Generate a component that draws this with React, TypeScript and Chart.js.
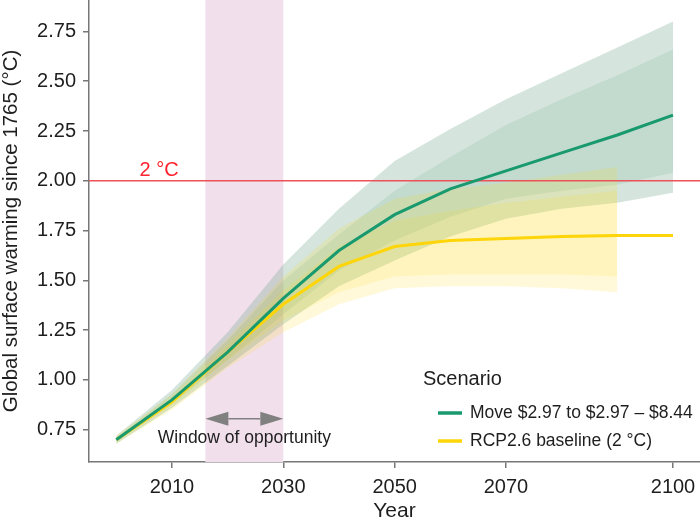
import { useEffect, useRef } from 'react';
import { Chart, registerables } from 'chart.js';

Chart.register(...registerables);

const FONT = "'Liberation Sans', Arial, Helvetica, sans-serif";

const YEARS = [2000, 2010, 2020, 2030, 2040, 2050, 2060, 2070, 2080, 2090, 2100];
const RCP_YEARS = [2000, 2010, 2020, 2030, 2040, 2050, 2060, 2070, 2080, 2090];

const MOVE_MEDIAN = [0.70, 0.90, 1.14, 1.41, 1.65, 1.83, 1.96, 2.05, 2.14, 2.23, 2.33];
const MOVE_UPPER_OUTER = [0.72, 0.95, 1.24, 1.58, 1.86, 2.10, 2.26, 2.41, 2.54, 2.67, 2.80];
const MOVE_UPPER_INNER = [0.71, 0.93, 1.20, 1.50, 1.73, 1.95, 2.12, 2.28, 2.41, 2.53, 2.66];
const MOVE_LOWER_INNER = [0.69, 0.88, 1.10, 1.33, 1.55, 1.70, 1.82, 1.91, 1.95, 1.98, 2.04];
const MOVE_LOWER_OUTER = [0.68, 0.86, 1.07, 1.28, 1.47, 1.60, 1.72, 1.81, 1.86, 1.89, 1.94];

const RCP_MEDIAN = [0.70, 0.89, 1.14, 1.38, 1.57, 1.67, 1.70, 1.71, 1.72, 1.725, 1.725];
const RCP_UPPER_OUTER = [0.72, 0.93, 1.21, 1.52, 1.76, 1.91, 1.96, 1.99, 2.03, 2.07];
const RCP_UPPER_INNER = [0.71, 0.91, 1.18, 1.45, 1.67, 1.80, 1.85, 1.89, 1.92, 1.95];
const RCP_LOWER_INNER = [0.69, 0.87, 1.10, 1.30, 1.44, 1.52, 1.53, 1.53, 1.53, 1.52];
const RCP_LOWER_OUTER = [0.68, 0.85, 1.06, 1.24, 1.38, 1.46, 1.47, 1.47, 1.46, 1.44];

const X_MIN = 1995.1;
const X_MAX = 2104.85;
const Y_MIN = 0.588;
const Y_MAX = 2.908;
const X_TICKS = [2010, 2030, 2050, 2070, 2100];
const Y_TICKS = [0.75, 1.0, 1.25, 1.5, 1.75, 2.0, 2.25, 2.5, 2.75];

const THRESHOLD = 2.0;
const THRESHOLD_LABEL = '2 °C';
const WINDOW_START = 2016;
const WINDOW_END = 2030;
const WINDOW_LABEL = 'Window of opportunity';

const LEGEND_TITLE = 'Scenario';
const MOVE_LABEL = 'Move $2.97 to $2.97 – $8.44';
const RCP_LABEL = 'RCP2.6 baseline (2 °C)';

const GREEN = 'rgb(24,154,110)';
const YELLOW = 'rgb(253,213,8)';
const GREEN_OUTER = 'rgba(100,160,130,0.27)';
const GREEN_INNER = 'rgba(100,160,130,0.16)';
const YELLOW_OUTER = 'rgba(255,215,0,0.15)';
const YELLOW_INNER = 'rgba(255,215,0,0.13)';
const RED_LINE = 'rgb(236,82,88)';
const RED_TEXT = 'rgb(255,35,45)';
const PINK = 'rgb(241,224,236)';
const AXIS = '#777';
const TEXT = '#1e1e1e';

const pts = (xs: number[], ys: number[]) => ys.map((y, i) => ({ x: xs[i], y }));

const bandLine = (data: any[], order: number, fill: any, bg: string) => ({
  data,
  order,
  fill,
  backgroundColor: bg,
  borderWidth: 0,
  borderColor: 'rgba(0,0,0,0)',
  pointRadius: 0,
  tension: 0,
});

const decor = {
  id: 'decor',
  beforeDatasetsDraw(chart: any) {
    const { ctx, chartArea, scales } = chart;
    const x0 = scales.x.getPixelForValue(WINDOW_START);
    const x1 = scales.x.getPixelForValue(WINDOW_END);
    ctx.save();
    ctx.fillStyle = PINK;
    ctx.fillRect(x0, chartArea.top, x1 - x0, chartArea.bottom - chartArea.top);
    ctx.restore();
  },
  afterDatasetsDraw(chart: any) {
    const { ctx, scales } = chart;
    const xs = scales.x;
    const ys = scales.y;
    ctx.save();
    // threshold label
    ctx.fillStyle = RED_TEXT;
    ctx.font = `20px ${FONT}`;
    ctx.textAlign = 'center';
    ctx.textBaseline = 'alphabetic';
    ctx.fillText(THRESHOLD_LABEL, xs.getPixelForValue(2007.7), ys.getPixelForValue(THRESHOLD) - 5);

    // window arrow
    const ax0 = xs.getPixelForValue(WINDOW_START);
    const ax1 = xs.getPixelForValue(WINDOW_END);
    const ay = ys.getPixelForValue(0.805);
    const head = 23;
    const hh = 7;
    ctx.strokeStyle = '#808080';
    ctx.fillStyle = '#808080';
    ctx.lineWidth = 1.5;
    ctx.beginPath();
    ctx.moveTo(ax0 + head, ay);
    ctx.lineTo(ax1 - head, ay);
    ctx.stroke();
    ctx.beginPath();
    ctx.moveTo(ax0, ay);
    ctx.lineTo(ax0 + head, ay - hh);
    ctx.lineTo(ax0 + head, ay + hh);
    ctx.closePath();
    ctx.fill();
    ctx.beginPath();
    ctx.moveTo(ax1, ay);
    ctx.lineTo(ax1 - head, ay - hh);
    ctx.lineTo(ax1 - head, ay + hh);
    ctx.closePath();
    ctx.fill();

    ctx.fillStyle = TEXT;
    ctx.font = `17.5px ${FONT}`;
    ctx.textAlign = 'center';
    ctx.textBaseline = 'middle';
    ctx.fillText(WINDOW_LABEL, (ax0 + ax1) / 2, ys.getPixelForValue(0.71));

    // legend
    ctx.textAlign = 'left';
    ctx.font = `20px ${FONT}`;
    ctx.fillText(LEGEND_TITLE, 423, 379);
    const items = [
      { label: MOVE_LABEL, color: GREEN, y: 413 },
      { label: RCP_LABEL, color: YELLOW, y: 441 },
    ];
    ctx.font = `17.5px ${FONT}`;
    for (const it of items) {
      ctx.strokeStyle = it.color;
      ctx.lineWidth = 3.5;
      ctx.beginPath();
      ctx.moveTo(438, it.y);
      ctx.lineTo(462, it.y);
      ctx.stroke();
      ctx.fillStyle = TEXT;
      ctx.fillText(it.label, 470, it.y);
    }
    ctx.restore();
  },
};

export default function App() {
  const ref = useRef<HTMLCanvasElement | null>(null);

  useEffect(() => {
    if (!ref.current) return;
    Chart.defaults.font.family = FONT;
    const chart = new Chart(ref.current, {
      type: 'line',
      data: {
        datasets: [
          {
            data: pts(YEARS, MOVE_MEDIAN),
            order: 0,
            borderColor: GREEN,
            borderWidth: 3,
            pointRadius: 0,
            fill: false,
            tension: 0,
          },
          {
            data: pts(YEARS, RCP_MEDIAN),
            order: 1,
            borderColor: YELLOW,
            borderWidth: 3,
            pointRadius: 0,
            fill: false,
            tension: 0,
          },
          {
            data: [
              { x: X_MIN, y: THRESHOLD },
              { x: X_MAX, y: THRESHOLD },
            ],
            order: 2,
            borderColor: RED_LINE,
            borderWidth: 1.5,
            pointRadius: 0,
            fill: false,
          },
          bandLine(pts(YEARS, MOVE_UPPER_OUTER), 6, 4, GREEN_OUTER),
          bandLine(pts(YEARS, MOVE_LOWER_OUTER), 6, false, GREEN_OUTER),
          bandLine(pts(YEARS, MOVE_UPPER_INNER), 5, 6, GREEN_INNER),
          bandLine(pts(YEARS, MOVE_LOWER_INNER), 5, false, GREEN_INNER),
          bandLine(pts(RCP_YEARS, RCP_UPPER_OUTER), 4, 8, YELLOW_OUTER),
          bandLine(pts(RCP_YEARS, RCP_LOWER_OUTER), 4, false, YELLOW_OUTER),
          bandLine(pts(RCP_YEARS, RCP_UPPER_INNER), 3, 10, YELLOW_INNER),
          bandLine(pts(RCP_YEARS, RCP_LOWER_INNER), 3, false, YELLOW_INNER),
        ] as any,
      },
      options: {
        animation: false,
        responsive: false,
        layout: { padding: 0 },
        plugins: {
          legend: { display: false },
          tooltip: { enabled: false },
        },
        scales: {
          x: {
            type: 'linear',
            min: X_MIN,
            max: X_MAX,
            afterBuildTicks: (s: any) => {
              s.ticks = X_TICKS.map((v) => ({ value: v }));
            },
            afterFit: (s: any) => {
              s.height = 63;
              s.paddingLeft = 0;
              s.paddingRight = 0;
            },
            ticks: {
              font: { size: 20, family: FONT },
              color: TEXT,
              padding: 7,
              callback: (v: any) => String(v),
            },
            grid: {
              display: true,
              drawOnChartArea: false,
              drawTicks: true,
              tickLength: 6,
              color: AXIS,
              lineWidth: 1.5,
            },
            border: { display: true, color: AXIS, width: 1.5 },
            title: {
              display: true,
              text: 'Year',
              color: TEXT,
              font: { size: 21, family: FONT, lineHeight: 1 },
              padding: { top: 0, bottom: 3 },
            },
          },
          y: {
            type: 'linear',
            min: Y_MIN,
            max: Y_MAX,
            afterBuildTicks: (s: any) => {
              s.ticks = Y_TICKS.map((v) => ({ value: v }));
            },
            afterFit: (s: any) => {
              s.width = 89;
              s.paddingTop = 0;
              s.paddingBottom = 0;
            },
            ticks: {
              font: { size: 20, family: FONT },
              color: TEXT,
              padding: 7,
              callback: (v: any) => Number(v).toFixed(2),
            },
            grid: {
              display: true,
              drawOnChartArea: false,
              drawTicks: true,
              tickLength: 6,
              color: AXIS,
              lineWidth: 1.5,
            },
            border: { display: true, color: AXIS, width: 1.5 },
            title: {
              display: true,
              text: 'Global surface warming since 1765 (°C)',
              color: TEXT,
              font: { size: 20.5, family: FONT, lineHeight: 1 },
              padding: { top: 1, bottom: 0 },
            },
          },
        },
      },
      plugins: [decor],
    });
    return () => chart.destroy();
  }, []);

  return (
    <div style={{ position: 'absolute', left: 0, top: 0, width: 700, height: 525 }}>
      <canvas ref={ref} width={700} height={525} style={{ display: 'block' }} />
    </div>
  );
}
